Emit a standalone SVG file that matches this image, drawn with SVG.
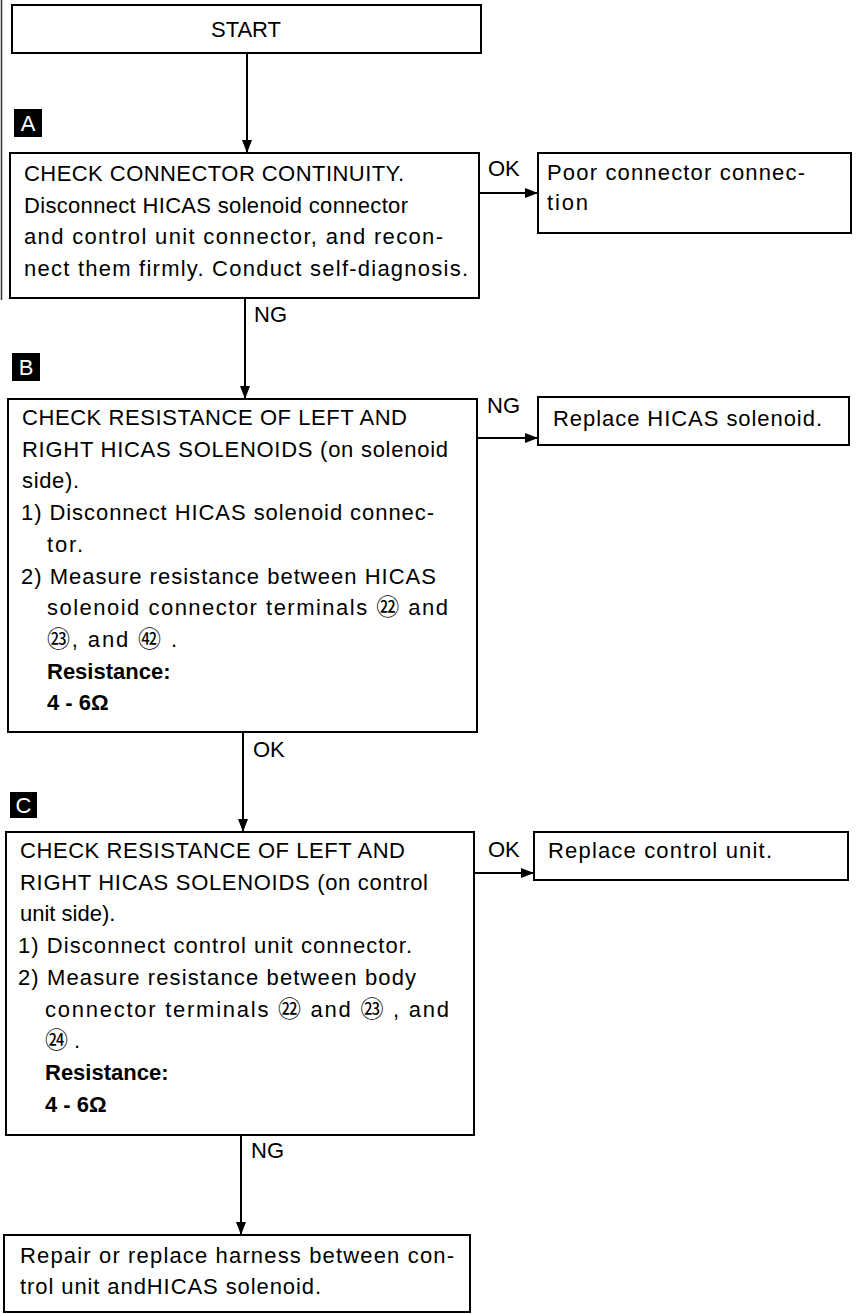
<svg xmlns="http://www.w3.org/2000/svg" width="858" height="1314" viewBox="0 0 858 1314">
<defs>
<marker id="arr" markerWidth="14" markerHeight="10" refX="13" refY="5" orient="auto" markerUnits="userSpaceOnUse"><path d="M0,0 L13,5 L0,10 z" fill="#000"/></marker>
<style>
.box{fill:#fff;stroke:#000;stroke-width:2}
.t{font-family:"Liberation Sans",Arial,sans-serif;font-size:22px;fill:#000}
.b{font-weight:bold}
.c{font-family:"Noto Sans CJK JP",sans-serif;font-size:23px}
.sq{fill:#000}
.lt{font-family:"Liberation Sans",Arial,sans-serif;font-size:22px;fill:#fff;text-anchor:middle}
.edge{stroke:#000;stroke-width:2;fill:none;marker-end:url(#arr)}
.scan{stroke:#333;stroke-width:1.5;fill:none}
</style>
</defs>
<rect width="858" height="1314" fill="#fff"/>
<line class="scan" x1="1.5" y1="0" x2="1.5" y2="300"/>

<g id="connectors">
<path class="edge" d="M247,53 V153"/>
<path class="edge" d="M479,193 H538"/>
<path class="edge" d="M245,298 V399"/>
<path class="edge" d="M477,438 H538"/>
<path class="edge" d="M243,732 V832"/>
<path class="edge" d="M474,873 H534"/>
<path class="edge" d="M241,1135 V1235"/>
<text class="t" x="488" y="176">OK</text>
<text class="t" x="254" y="322">NG</text>
<text class="t" x="487" y="413">NG</text>
<text class="t" x="253" y="757">OK</text>
<text class="t" x="488" y="857">OK</text>
<text class="t" x="251" y="1158">NG</text>
</g>

<g id="start">
<rect class="box" x="12" y="5" width="469" height="48"/>
<text class="t" x="246" y="37" text-anchor="middle">START</text>
</g>

<g id="label-A">
<rect class="sq" x="14" y="109" width="28" height="28"/>
<text class="lt" x="28" y="131">A</text>
</g>
<g id="label-B">
<rect class="sq" x="12" y="353" width="28" height="28"/>
<text class="lt" x="26" y="375">B</text>
</g>
<g id="label-C">
<rect class="sq" x="10" y="792" width="27" height="26"/>
<text class="lt" x="23.5" y="813">C</text>
</g>

<g id="check-connector">
<rect class="box" x="10" y="153" width="469" height="145"/>
<text class="t" x="24" y="181" textLength="380" lengthAdjust="spacing">CHECK CONNECTOR CONTINUITY.</text>
<text class="t" x="24" y="212.5" textLength="384" lengthAdjust="spacing">Disconnect HICAS solenoid connector</text>
<text class="t" x="24" y="244" textLength="419" lengthAdjust="spacing">and control unit connector, and recon-</text>
<text class="t" x="24" y="275.5" textLength="444" lengthAdjust="spacing">nect them firmly. Conduct self-diagnosis.</text>
</g>

<g id="poor-connection">
<rect class="box" x="538" y="153" width="313" height="80"/>
<text class="t" x="547" y="180" textLength="258" lengthAdjust="spacing">Poor connector connec-</text>
<text class="t" x="547" y="210" textLength="41" lengthAdjust="spacing">tion</text>
</g>

<g id="check-solenoid-side">
<rect class="box" x="8" y="399" width="469" height="333"/>
<text class="t" x="22" y="425" textLength="385" lengthAdjust="spacing">CHECK RESISTANCE OF LEFT AND</text>
<text class="t" x="22" y="456.7" textLength="426" lengthAdjust="spacing">RIGHT HICAS SOLENOIDS (on solenoid</text>
<text class="t" x="22" y="488.4" textLength="57" lengthAdjust="spacing">side).</text>
<text class="t" x="21" y="520.1" textLength="413" lengthAdjust="spacing">1) Disconnect HICAS solenoid connec-</text>
<text class="t" x="47" y="551.8" textLength="36" lengthAdjust="spacing">tor.</text>
<text class="t" x="21" y="583.5" textLength="415" lengthAdjust="spacing">2) Measure resistance between HICAS</text>
<text class="t" x="47" y="615.2" textLength="401" lengthAdjust="spacing">solenoid connector terminals <tspan class="c">㉒</tspan> and</text>
<text class="t" x="47" y="646.9" textLength="130" lengthAdjust="spacing"><tspan class="c">㉓</tspan>, and <tspan class="c">㊷</tspan> .</text>
<text class="t b" x="47" y="678.6">Resistance:</text>
<text class="t b" x="47" y="710.3">4 - 6Ω</text>
</g>

<g id="replace-solenoid">
<rect class="box" x="538" y="397" width="311" height="48"/>
<text class="t" x="553" y="426" textLength="269" lengthAdjust="spacing">Replace HICAS solenoid.</text>
</g>

<g id="check-control-unit-side">
<rect class="box" x="6" y="832" width="468" height="303"/>
<text class="t" x="20" y="858" textLength="385" lengthAdjust="spacing">CHECK RESISTANCE OF LEFT AND</text>
<text class="t" x="20" y="889.7" textLength="408" lengthAdjust="spacing">RIGHT HICAS SOLENOIDS (on control</text>
<text class="t" x="20" y="921.4">unit side).</text>
<text class="t" x="18" y="953.1" textLength="394" lengthAdjust="spacing">1) Disconnect control unit connector.</text>
<text class="t" x="18" y="984.8" textLength="398" lengthAdjust="spacing">2) Measure resistance between body</text>
<text class="t" x="45" y="1016.5" textLength="404" lengthAdjust="spacing">connector terminals <tspan class="c">㉒</tspan> and <tspan class="c">㉓</tspan> , and</text>
<text class="t" x="45" y="1048.2"><tspan class="c">㉔</tspan> .</text>
<text class="t b" x="45" y="1079.9">Resistance:</text>
<text class="t b" x="45" y="1111.6">4 - 6Ω</text>
</g>

<g id="replace-control-unit">
<rect class="box" x="534" y="832" width="314" height="48"/>
<text class="t" x="548" y="858" textLength="224" lengthAdjust="spacing">Replace control unit.</text>
</g>

<g id="repair-harness">
<rect class="box" x="4" y="1235" width="466" height="77"/>
<text class="t" x="20" y="1263" textLength="434" lengthAdjust="spacing">Repair or replace harness between con-</text>
<text class="t" x="20" y="1294" textLength="301" lengthAdjust="spacing">trol unit andHICAS solenoid.</text>
</g>
</svg>
